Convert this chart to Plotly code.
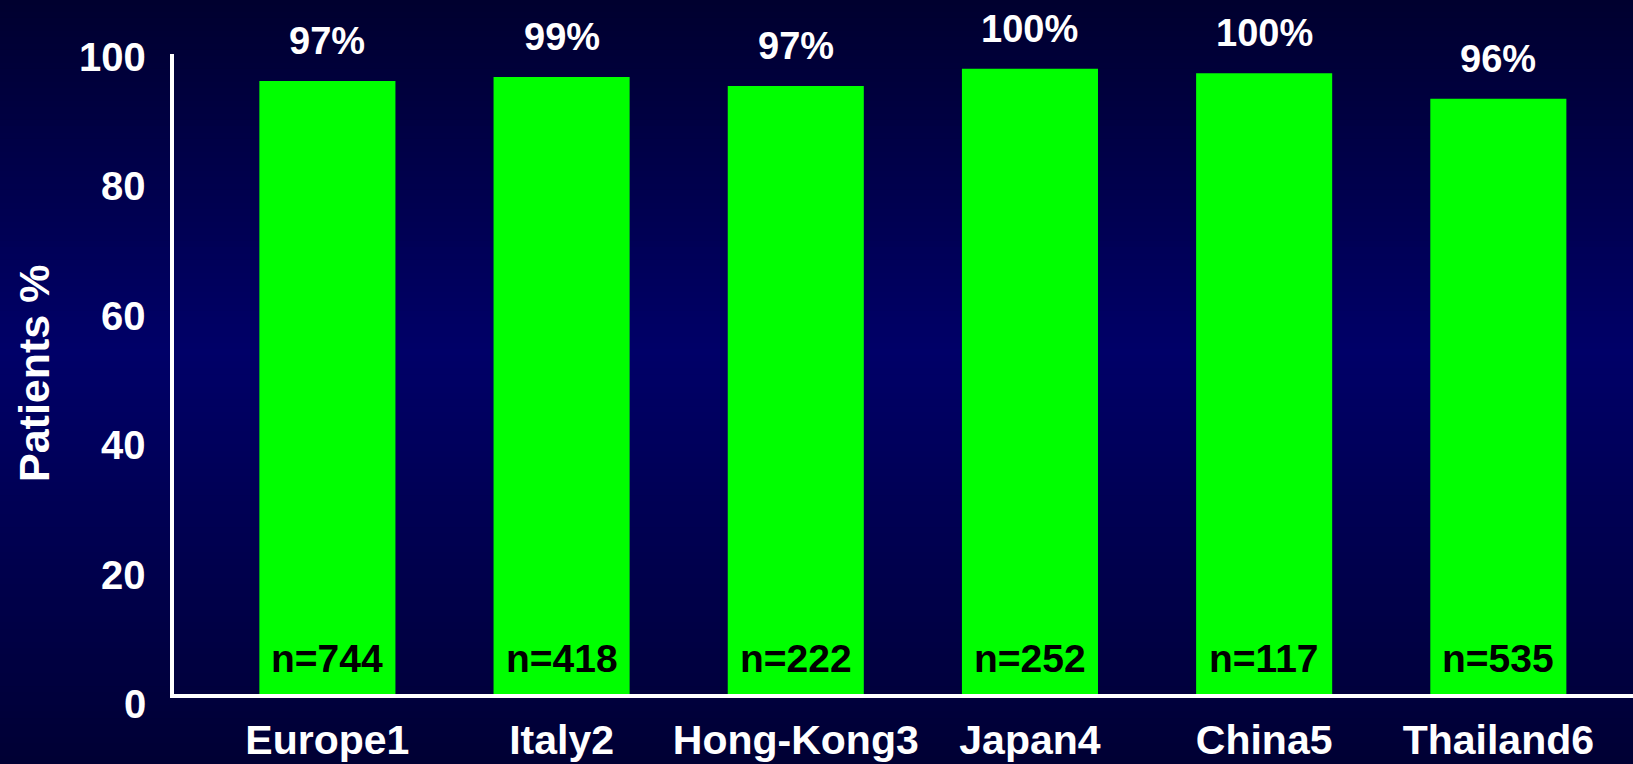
import plotly.graph_objects as go

categories = ["Europe1", "Italy2", "Hong-Kong3", "Japan4", "China5", "Thailand6"]
bar_values = [95.8, 96.4, 95.0, 97.7, 97.0, 93.0]
pct_labels = ["97%", "99%", "97%", "100%", "100%", "96%"]
n_labels = ["n=744", "n=418", "n=222", "n=252", "n=117", "n=535"]
y_ticks = [0, 20, 40, 60, 80, 100]
y_title = "Patients %"

FONT = "Liberation Sans, Arial, Helvetica, sans-serif"
W, H = 1633, 764
ML, MR, MT, MB = 174, 0, 54, 70
PW, PH = W - ML - MR, H - MT - MB

fig = go.Figure()
fig.add_trace(go.Bar(
    x=categories, y=bar_values,
    marker=dict(color="#00FF00", line=dict(width=0)),
    width=0.581, hoverinfo="skip",
))

# background gradient (dark navy, brighter in the middle) covering whole figure
shapes = []
nb = 120
def shade(t):
    peak = 0.46
    if t <= peak:
        f = t / peak
        top, mid = (0, 0, 46), (0, 0, 104)
        c = [top[i] + (mid[i] - top[i]) * f for i in range(3)]
    else:
        f = (t - peak) / (1 - peak)
        mid, bot = (0, 0, 104), (0, 0, 52)
        c = [mid[i] + (bot[i] - mid[i]) * f for i in range(3)]
    return "rgb(%d,%d,%d)" % tuple(int(round(v)) for v in c)

y_top = 1 + MT / PH
y_bot = -MB / PH
x_left = -ML / PW - 0.01
x_right = 1 + MR / PW + 0.01
for k in range(nb):
    ya = y_top - (y_top - y_bot) * k / nb
    yb = y_top - (y_top - y_bot) * (k + 1) / nb
    shapes.append(dict(type="rect", xref="paper", yref="paper",
                       x0=x_left, x1=x_right, y0=yb - 0.002, y1=ya + 0.002,
                       fillcolor=shade((k + 0.5) / nb), line=dict(width=0),
                       layer="below"))

annotations = []
for c, v, t in zip(categories, bar_values, pct_labels):
    annotations.append(dict(x=c, y=v, xref="x", yref="y", text="<b>%s</b>" % t,
                            showarrow=False, yanchor="middle", yshift=40,
                            font=dict(family=FONT, size=38, color="white")))
for c, t in zip(categories, n_labels):
    annotations.append(dict(x=c, y=0, xref="x", yref="y", text="<b>%s</b>" % t,
                            showarrow=False, yanchor="middle", yshift=36,
                            font=dict(family=FONT, size=39, color="black")))
# value-axis tick labels: the original labels sit slightly below their gridline
# positions, increasingly toward the bottom
for v in y_ticks:
    annotations.append(dict(x=0, y=v, xref="paper", yref="y", text="<b>%d</b>" % v,
                            showarrow=False, xanchor="right", yanchor="middle",
                            xshift=-26, yshift=-(3 + 0.07 * (100 - v)),
                            font=dict(family=FONT, size=40, color="white")))
annotations.append(dict(x=0, y=0.5, xref="paper", yref="paper",
                        text="<b>%s</b>" % y_title, textangle=-90,
                        showarrow=False, xanchor="center", yanchor="middle",
                        xshift=-140,
                        font=dict(family=FONT, size=43, color="white")))

fig.update_layout(
    width=W, height=H,
    margin=dict(l=ML, r=MR, t=MT, b=MB, pad=0, autoexpand=False),
    paper_bgcolor="#000040", plot_bgcolor="rgba(0,0,0,0)",
    showlegend=False, shapes=shapes, annotations=annotations,
    xaxis=dict(type="category", range=[-0.655, 5.575], showline=True,
               linecolor="white", linewidth=4, showgrid=False, zeroline=False,
               ticks="", ticklabelstandoff=7, automargin=False,
               tickfont=dict(family=FONT, size=41, color="white", weight="bold"),
               fixedrange=True),
    yaxis=dict(range=[0, 100], showline=True, linecolor="white", linewidth=4,
               showgrid=False, zeroline=False, showticklabels=False, ticks="",
               automargin=False, fixedrange=True),
)

fig.write_html("out.html", config={"displayModeBar": False},
               post_script="document.body.style.margin='0';document.body.style.background='#000033';")
